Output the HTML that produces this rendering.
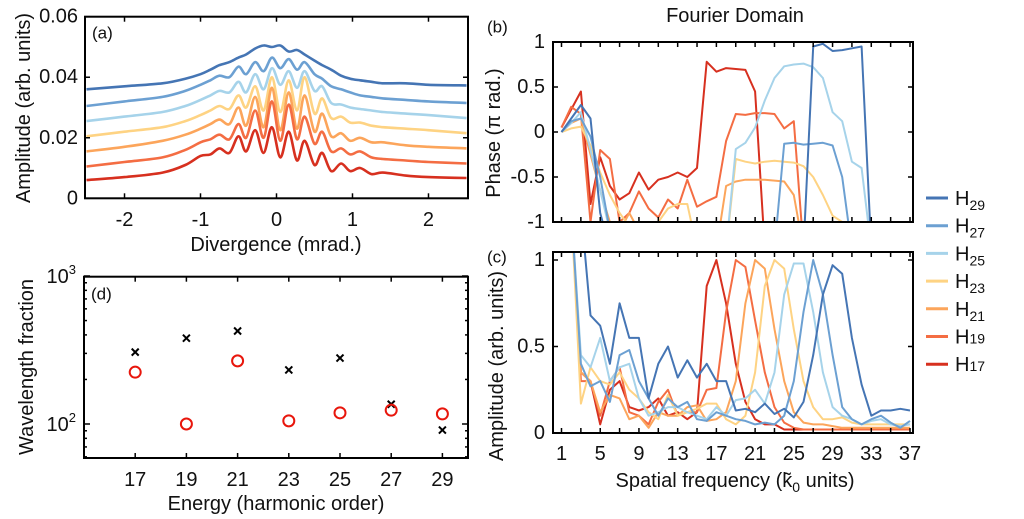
<!DOCTYPE html>
<html>
<head>
<meta charset="utf-8">
<style>
html,body{margin:0;padding:0;background:#fff;}
svg{display:block;font-family:"Liberation Sans",Arial,sans-serif;}
</style>
</head>
<body>
<svg id="fig" width="1024" height="519" viewBox="0 0 1024 519" xmlns="http://www.w3.org/2000/svg">
  <defs>
    <clipPath id="clipA"><rect x="85" y="16.7" width="383" height="181.6"/></clipPath>
    <clipPath id="clipB"><rect x="553" y="42" width="360" height="180"/></clipPath>
    <clipPath id="clipC"><rect x="553" y="252" width="360" height="181"/></clipPath>
  </defs>
  <rect x="0" y="0" width="1024" height="519" fill="#fff"/>
  <g id="gA"></g>
  <g id="gB"></g>
  <g id="gC"></g>
  <g id="gD"></g>
  <g id="gL"></g>
</svg>
<script>
// ---------- data ----------
const harmonics = ["29","27","25","23","21","19","17"];
const colors = ["#4575b4","#6ca0d2","#a6d3ea","#fed383","#fca55b","#f46d43","#d7301f"];

// Panel (a): divergence profiles (values in 1e-3 arb. units)
const divX = [-2.5,-2,-1.5,-1.2,-1.0,-0.87,-0.75,-0.62,-0.5,-0.4,-0.28,-0.17,-0.06,0.05,0.16,0.27,0.37,0.5,0.6,0.72,0.85,0.97,1.1,1.25,1.4,1.7,2,2.5];
const divH29 = [36,37,38,39.5,41,42.5,44,45,46.5,47.5,49.5,50.5,50,50.5,48.5,49,47.5,45.5,44,42.5,40.5,39.5,39,38.5,38,38,37.5,37.3];
const divH27 = [30.5,32,33.5,35.5,37.5,39,40.5,40,43.5,41,45,42,46.5,43,46,42.5,45,41,39.5,37,36,35,34,33.5,33,32.5,32,31.5];
const divH25 = [25.5,27,28.5,30.5,32.5,34,35.5,35,38.5,35,41,36,43,37.5,42,36.5,42,35.5,37,31.5,31,30,29.5,29,28.5,28,27.5,26.5];
const divH23 = [20.5,22,23.5,25.5,27.5,29,30.5,29.5,34,30,37,29,40,28.5,39,29,40,28,33,26.5,27,25,25,24,23.5,23,22.5,21.5];
const divH21 = [15.5,17,19,21,23,24.5,26,24.5,30,24,33.5,23.5,36.5,22.5,35,23,34,22,28,20.5,21.5,19,20,18.5,18.5,17.5,17,16.5];
const divH19 = [10.5,12,13.5,16,18.5,19.5,21,19.5,24.5,20,29,20,32,19,31,19.5,27,18,22,15.5,16.5,14.5,15.5,13.5,13,12.5,12,11.5];
const divH17 = [6,7,8.5,11,14,14.5,16.5,15,20.5,15.5,22.5,15,23.5,13.5,22,12.5,19,11,15,9,11.5,9,10,8,8.5,7.5,7,6.7];
const divTicks = [-2,-1,0,1,2];
const divTickLabels = ["-2","-1","0","1","2"];
const ampATicks = [0,20,40,60];
const ampATickLabels = ["0","0.02","0.04","0.06"];

// Panels (b),(c): spatial frequency axis
const freqX = [1,2,3,4,5,6,7,8,9,10,11,12,13,14,15,16,17,18,19,20,21,22,23,24,25,26,27,28,29,30,31,32,33,34,35,36,37];
const phaseH29 = [0,0.15,0.3,0.15,-0.9,-1.3,-1.3,-1.3,-1.3,-1.3,-1.3,-1.3,-1.3,-1.3,-1.3,-1.3,-1.3,-1.3,-1.3,-1.3,-1.3,-1.3,-1.3,-1.3,-1.3,-1.3,0.95,0.98,0.9,0.91,0.93,0.95,-1.3,-1.3,-1.3,-1.3,-1.3];
const phaseH27 = [0,0.12,0.15,-0.05,-0.5,-1.1,-1.3,-1.3,-1.3,-1.3,-1.3,-1.3,-1.3,-1.3,-1.3,-1.3,-1.3,-1.3,-1.3,-1.3,-1.3,-1.3,-1.3,-0.13,-0.12,-0.14,-0.13,-0.12,-0.15,-0.5,-1.3,-1.3,-1.3,-1.3,-1.3,-1.3,-1.3];
const phaseH25 = [0,0.1,0.22,-0.2,-0.65,-1.1,-1.3,-1.3,-1.3,-1.3,-1.3,-1.3,-1.3,-1.3,-1.3,-1.3,-1.3,-1.3,-0.19,-0.12,0.05,0.35,0.6,0.73,0.75,0.76,0.72,0.6,0.22,0.12,-0.33,-0.4,-1.3,-1.3,-1.3,-1.3,-1.3];
const phaseH23 = [0,0.04,0.06,-0.15,-0.45,-0.7,-0.9,-1.05,-1.1,-1.0,-1.0,-0.85,-0.8,-0.8,-1.3,-1.3,-1.3,-1.3,-0.3,-0.33,-0.35,-0.33,-0.32,-0.33,-0.34,-0.38,-0.5,-0.7,-0.93,-1.0,-1.3,-1.3,-1.3,-1.3,-1.3,-1.3,-1.3];
const phaseH21 = [0,0.1,0.15,-0.25,-0.65,-1.0,-1.1,-0.9,-1.1,-1.2,-1.3,-1.3,-1.3,-1.3,-1.3,-1.3,-1.3,-0.6,-0.55,-0.53,-0.53,-0.53,-0.54,-0.55,-0.7,-1.3,-1.3,-1.3,-1.3,-1.3,-1.3,-1.3,-1.3,-1.3,-1.3,-1.3,-1.3];
const phaseH19 = [0.05,0.28,0.2,-1.0,-0.2,-0.3,-1.0,-0.9,-0.66,-0.85,-0.95,-0.75,-0.85,-0.53,-0.83,-0.77,-0.72,-0.1,0.2,0.19,0.21,0.21,0.2,0.04,0.12,-1.3,-1.3,-1.3,-1.3,-1.3,-1.3,-1.3,-1.3,-1.3,-1.3,-1.3,-1.3];
const phaseH17 = [0.05,0.25,0.45,-0.8,-0.28,-0.6,-0.75,-0.68,-0.45,-0.64,-0.53,-0.5,-0.45,-0.5,-0.4,0.78,0.67,0.71,0.7,0.69,0.45,-1.3,-1.3,-1.3,-1.3,-1.3,-1.3,-1.3,-1.3,-1.3,-1.3,-1.3,-1.3,-1.3,-1.3,-1.3,-1.3];

const specH29 = [1.3,1.3,1.3,0.68,0.62,0.4,0.75,0.55,0.55,0.2,0.4,0.5,0.32,0.42,0.32,0.4,0.3,0.3,0.13,0.14,0.12,0.17,0.11,0.14,0.09,0.18,0.45,0.8,0.97,0.92,0.55,0.28,0.1,0.13,0.13,0.14,0.13];
const specH27 = [1.3,1.3,0.4,0.27,0.3,0.18,0.45,0.48,0.3,0.2,0.1,0.2,0.15,0.18,0.08,0.07,0.12,0.1,0.08,0.07,0.05,0.06,0.05,0.1,0.3,0.7,1.0,0.8,0.45,0.15,0.08,0.05,0.08,0.1,0.06,0.03,0.07];
const specH25 = [1.3,1.3,0.45,0.38,0.55,0.3,0.38,0.4,0.2,0.1,0.12,0.15,0.15,0.12,0.1,0.08,0.15,0.1,0.19,0.2,0.25,0.17,0.35,0.8,0.98,0.98,0.7,0.35,0.15,0.1,0.08,0.05,0.07,0.08,0.05,0.04,0.05];
const specH23 = [1.3,1.3,0.17,0.38,0.3,0.28,0.35,0.25,0.2,0.12,0.08,0.22,0.1,0.12,0.14,0.17,0.17,0.08,0.05,0.1,0.35,0.85,1.0,0.95,0.6,0.3,0.15,0.08,0.08,0.09,0.06,0.05,0.05,0.05,0.05,0.05,0.05];
const specH21 = [1.3,1.3,0.35,0.3,0.12,0.22,0.2,0.08,0.1,0.03,0.12,0.1,0.1,0.15,0.16,0.07,0.08,0.12,0.3,0.75,1.0,0.95,0.6,0.3,0.12,0.06,0.05,0.05,0.04,0.03,0.03,0.03,0.03,0.03,0.03,0.03,0.03];
const specH19 = [1.3,1.3,0.3,0.3,0.1,0.3,0.38,0.12,0.1,0.05,0.18,0.25,0.1,0.12,0.12,0.25,0.26,0.7,1.0,0.96,0.65,0.35,0.15,0.06,0.03,0.02,0.02,0.02,0.02,0.02,0.02,0.02,0.02,0.02,0.02,0.02,0.02];
const specH17 = [1.3,1.3,0.35,0.3,0.05,0.25,0.3,0.15,0.13,0.15,0.2,0.1,0.12,0.08,0.12,0.85,1.0,0.75,0.4,0.18,0.08,0.05,0.05,0.02,0.02,0.02,0.02,0.02,0.02,0.02,0.02,0.02,0.02,0.02,0.02,0.02,0.02];
const freqTicks = [1,5,9,13,17,21,25,29,33,37];
const phaseTicks = [1,0.5,0,-0.5,-1];
const phaseTickLabels = ["1","0.5","0","-0.5","-1"];
const specTicks = [0,0.5,1];
const specTickLabels = ["0","0.5","1"];

// Panel (d)
const orders = [17,19,21,23,25,27,29];
const fracCross = [306,380,425,232,279,136,91];
const fracCircle = [224,100,267,105,119,124,117];

// ---------- helpers ----------
const NS = "http://www.w3.org/2000/svg";
function mk(tag, attrs, parent){
  const e = document.createElementNS(NS, tag);
  for (const k in attrs) e.setAttribute(k, attrs[k]);
  parent.appendChild(e);
  return e;
}
function lin(d0,d1,r0,r1){ return v => r0 + (v-d0)/(d1-d0)*(r1-r0); }
function txt(parent, x, y, s, size, anchor, extra){
  const t = mk("text", Object.assign({x:x, y:y, "font-size":size, "text-anchor":anchor||"middle", fill:"#111", "dominant-baseline":"central"}, extra||{}), parent);
  t.textContent = s;
  return t;
}
function smoothPath(pts){
  let d = "M"+pts[0][0].toFixed(1)+","+pts[0][1].toFixed(1);
  for (let i=0;i<pts.length-1;i++){
    const p0 = pts[Math.max(0,i-1)], p1 = pts[i], p2 = pts[i+1], p3 = pts[Math.min(pts.length-1,i+2)];
    const c1x = p1[0]+(p2[0]-p0[0])/6, c1y = p1[1]+(p2[1]-p0[1])/6;
    const c2x = p2[0]-(p3[0]-p1[0])/6, c2y = p2[1]-(p3[1]-p1[1])/6;
    d += " C"+c1x.toFixed(1)+","+c1y.toFixed(1)+" "+c2x.toFixed(1)+","+c2y.toFixed(1)+" "+p2[0].toFixed(1)+","+p2[1].toFixed(1);
  }
  return d;
}
function polyPath(pts){
  return pts.map((p,i)=>(i?"L":"M")+p[0].toFixed(1)+","+p[1].toFixed(1)).join(" ");
}
function frame(parent, x0, y0, x1, y1){
  mk("rect", {x:x0, y:y0, width:x1-x0, height:y1-y0, fill:"none", stroke:"#000", "stroke-width":2}, parent);
}
function tickX(parent, x, y0, y1, len){
  mk("line", {x1:x, y1:y1, x2:x, y2:y1-len, stroke:"#000", "stroke-width":1.5}, parent);
  mk("line", {x1:x, y1:y0, x2:x, y2:y0+len, stroke:"#000", "stroke-width":1.5}, parent);
}
function tickY(parent, y, x0, x1, len){
  mk("line", {x1:x0, y1:y, x2:x0+len, y2:y, stroke:"#000", "stroke-width":1.5}, parent);
  mk("line", {x1:x1, y1:y, x2:x1-len, y2:y, stroke:"#000", "stroke-width":1.5}, parent);
}

// ---------- panel (a) ----------
const gA = document.getElementById("gA");
const axA = lin(-2.52, 2.52, 85, 468);
const ayA = lin(0, 60, 198.3, 16.7);
const divSeries = [divH29, divH27, divH25, divH23, divH21, divH19, divH17];
const gAl = mk("g", {"clip-path":"url(#clipA)"}, gA);
divSeries.forEach((ys, k) => {
  const p = mk("path", {d: smoothPath(divX.map((x,i)=>[axA(x), ayA(ys[i])])), fill:"none", stroke:colors[k], "stroke-width":2.6, "stroke-linejoin":"round"}, gAl);
  
  
});
frame(gA, 85, 16.7, 468, 198.3);
divTicks.forEach((v,i) => {
  tickX(gA, axA(v), 16.7, 198.3, 5);
  const t = txt(gA, axA(v), 220, divTickLabels[i], 20);
  
  
});
ampATicks.forEach((v,i) => {
  tickY(gA, ayA(v), 85, 468, 5);
  const t = txt(gA, 78, ayA(v), ampATickLabels[i], 20, "end");
  
  
});
{
  let t = txt(gA, 276, 245, "Divergence (mrad.)", 20);
  
  
  t = txt(gA, 0, 0, "Amplitude (arb. units)", 20, "middle", {transform:"translate(24,108) rotate(-90)"});
  
  
  t = txt(gA, 92, 33, "(a)", 17, "start");
  
  
}

// ---------- panel (b) ----------
const gB = document.getElementById("gB");
const BX0 = 553, BX1 = 913;
const axF = lin(1, 37, 561.5, 910);
const ayB = lin(-1, 1, 222, 42);
const phaseSeries = [phaseH29, phaseH27, phaseH25, phaseH23, phaseH21, phaseH19, phaseH17];
const gBl = mk("g", {"clip-path":"url(#clipB)"}, gB);
for (let k = phaseSeries.length-1; k >= 0; k--) {
  const ys = phaseSeries[k];
  const p = mk("path", {d: polyPath(freqX.map((x,i)=>[axF(x), ayB(ys[i])])), fill:"none", stroke:colors[k], "stroke-width":2, "stroke-linejoin":"round"}, gBl);
  
  
}
frame(gB, BX0, 42, BX1, 222);
for (let u = 1; u <= 37; u += 2) tickX(gB, axF(u), 42, 222, 5);
phaseTicks.forEach((v,i) => {
  tickY(gB, ayB(v), BX0, BX1, 5);
  const t = txt(gB, 545, ayB(v), phaseTickLabels[i], 20, "end");
  
  
});
{
  let t = txt(gB, 0, 0, "Phase (\u03C0 rad.)", 20, "middle", {transform:"translate(494,133) rotate(-90)"});
  
  
  t = txt(gB, 735, 16, "Fourier Domain", 20);
  
  
  t = txt(gB, 487, 27, "(b)", 17, "start");
  
  
}

// ---------- panel (c) ----------
const gC = document.getElementById("gC");
const ayC = lin(0, 1, 433, 260);
const specSeries = [specH29, specH27, specH25, specH23, specH21, specH19, specH17];
const gCl = mk("g", {"clip-path":"url(#clipC)"}, gC);
for (let k = specSeries.length-1; k >= 0; k--) {
  const ys = specSeries[k];
  const p = mk("path", {d: polyPath(freqX.map((x,i)=>[axF(x), ayC(ys[i])])), fill:"none", stroke:colors[k], "stroke-width":2, "stroke-linejoin":"round"}, gCl);
  
  
}
frame(gC, BX0, 252, BX1, 433);
for (let u = 1; u <= 37; u += 2) tickX(gC, axF(u), 252, 433, 5);
freqTicks.forEach(v => {
  const t = txt(gC, axF(v), 454, String(v), 20);
  
  
});
specTicks.forEach((v,i) => {
  tickY(gC, ayC(v), BX0, BX1, 5);
  const t = txt(gC, 545, ayC(v), specTickLabels[i], 20, "end");
  
  
});
{
  let t = txt(gC, 0, 0, "Amplitude (arb. units)", 20, "middle", {transform:"translate(497,366) rotate(-90)"});
  
  
  t = mk("text", {x:735, y:481, "font-size":20, "text-anchor":"middle", "dominant-baseline":"central", fill:"#111"}, gC);
  
  
  t.appendChild(document.createTextNode("Spatial frequency ("));
  const s1 = mk("tspan", {}, t); s1.textContent = "k\u0303";
  const s2 = mk("tspan", {"font-size":14, dy:6}, t); s2.textContent = "0";
  const s3 = mk("tspan", {dy:-6}, t); s3.textContent = " units)";
  t = txt(gC, 487, 257, "(c)", 17, "start");
  
  
}

// ---------- panel (d) ----------
const gD = document.getElementById("gD");
const axD = lin(15, 30, 84, 468);
const ayD = v => 424 - (Math.log10(v) - 2) * 148;
frame(gD, 84, 276.7, 468, 458);
orders.forEach(o => {
  tickX(gD, axD(o), 276.7, 458, 5);
  const t = txt(gD, axD(o), 480, String(o), 20);
  
  
});
[60,70,80,90,200,300,400,500,600,700,800,900].forEach(v => tickY(gD, ayD(v), 84, 468, 3));
[100,1000].forEach(v => tickY(gD, ayD(v), 84, 468, 6));
[[1000,"3"],[100,"2"]].forEach(([v,e]) => {
  const t = mk("text", {x:76, y:ayD(v)+7, "font-size":20, "text-anchor":"end", fill:"#111"}, gD);
  
  
  t.appendChild(document.createTextNode("10"));
  const s = mk("tspan", {"font-size":13, dy:-9}, t); s.textContent = e;
});
orders.forEach((o,i) => {
  const x = axD(o), y = ayD(fracCross[i]);
  const g = mk("g", {}, gD);
  
  
  mk("line", {x1:x-3.5, y1:y-3.5, x2:x+3.5, y2:y+3.5, stroke:"#000", "stroke-width":2}, g);
  mk("line", {x1:x-3.5, y1:y+3.5, x2:x+3.5, y2:y-3.5, stroke:"#000", "stroke-width":2}, g);
  const c = mk("circle", {cx:x, cy:ayD(fracCircle[i]), r:5.5, fill:"none", stroke:"#e8160c", "stroke-width":2}, gD);
  
  
});
{
  let t = txt(gD, 276, 504, "Energy (harmonic order)", 20);
  
  
  t = txt(gD, 0, 0, "Wavelength fraction", 20, "middle", {transform:"translate(27,367) rotate(-90)"});
  
  
  t = txt(gD, 91, 294, "(d)", 17, "start");
  
  
}

// ---------- legend ----------
const gL = document.getElementById("gL");
harmonics.forEach((h,k) => {
  const y = 198 + k * 27.7;
  const g = mk("g", {}, gL);
  
  
  mk("line", {x1:926, y1:y, x2:948, y2:y, stroke:colors[k], "stroke-width":3}, g);
  const t = mk("text", {x:955, y:y+7, "font-size":20, fill:"#111"}, g);
  t.appendChild(document.createTextNode("H"));
  const s = mk("tspan", {"font-size":14, dy: (h==="19"||h==="17") ? 0 : 5}, t);
  s.textContent = h;
});
</script>
</body>
</html>
